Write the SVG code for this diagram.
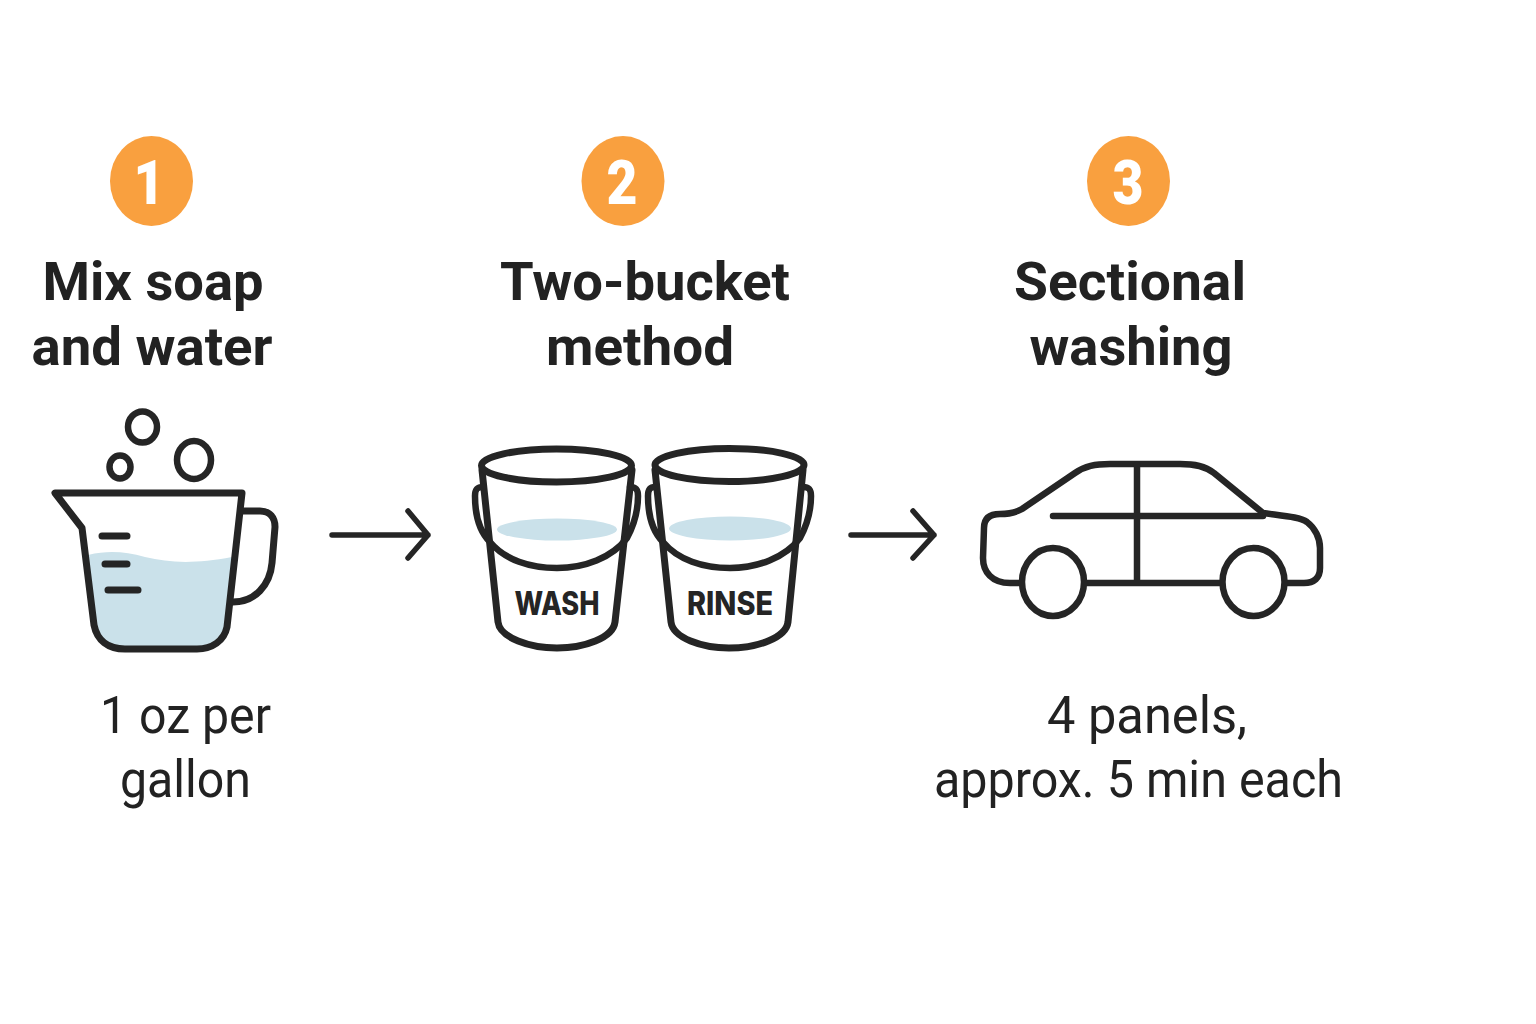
<svg xmlns="http://www.w3.org/2000/svg" width="1536" height="1024" viewBox="0 0 1536 1024">
<style>
.l{fill:none;stroke:#252525;stroke-linecap:round;stroke-linejoin:round}
.w{fill:#cae1ea;stroke:none}
.b{fill:#f9a03f;stroke:none}
.n{font-family:Roboto,"Liberation Sans",sans-serif;font-weight:900;font-size:62px;fill:#fff;text-anchor:middle}
.t{font-family:Roboto,"Liberation Sans",sans-serif;font-weight:700;font-size:54px;fill:#222;text-anchor:middle}
.s{font-family:Roboto,"Liberation Sans",sans-serif;font-weight:400;font-size:52px;fill:#222;text-anchor:middle}
.k{font-family:Inter,"Liberation Sans",sans-serif;font-weight:800;font-size:32px;fill:#252525;text-anchor:middle}
</style>
<rect width="1536" height="1024" fill="#fff"/>
<g id="connectors">
<path class="l" stroke-width="5.500" d="M332 535H428M408 511L428 535L408 558"/>
<path class="l" stroke-width="5.500" d="M851 535H934M913 511L934 535L913 558"/>
</g>
<g id="step1">
<ellipse class="b" cx="151.500" cy="181" rx="41.500" ry="45"/>
<text class="n" x="149" y="204" textLength="31" lengthAdjust="spacingAndGlyphs">1</text>
<text class="t" x="153" y="300" textLength="221" lengthAdjust="spacingAndGlyphs">Mix soap</text>
<text class="t" x="152" y="365" textLength="241" lengthAdjust="spacingAndGlyphs">and water</text>
<g id="jug">
<path class="w" d="M88 555C110 550 125 552 145 557C170 563 195 564 232 557L224 627C220 640 208 649 195 649H125C108 649 98 640 94 625Z"/>
<path class="l" stroke-width="7" d="M55 493H242L227 627C224 641 212 649 197 649H125C108 649 97 640 94 625L82 528Z"/>
<path class="l" stroke-width="7" d="M243 511H260C270 511 275 518 275 527L272 563C270 585 255 602 233 602"/>
<g class="l" stroke-width="7"><path d="M102 536H127M105 564H127M108 590H138"/></g>
<g class="l" stroke-width="6.500">
<ellipse cx="142.500" cy="427" rx="14.500" ry="15.500"/>
<ellipse cx="120" cy="467" rx="10.500" ry="11.500"/>
<ellipse cx="194" cy="460" rx="17" ry="19"/>
</g>
</g>
<text class="s" x="185.500" y="733" textLength="171" lengthAdjust="spacingAndGlyphs">1 oz per</text>
<text class="s" x="185.500" y="797" textLength="131" lengthAdjust="spacingAndGlyphs">gallon</text>
</g>
<g id="step2">
<ellipse class="b" cx="623" cy="181" rx="41.500" ry="45"/>
<text class="n" x="622" y="204" textLength="31" lengthAdjust="spacingAndGlyphs">2</text>
<text class="t" x="645" y="300" textLength="290" lengthAdjust="spacingAndGlyphs">Two-bucket</text>
<text class="t" x="640" y="365" textLength="188" lengthAdjust="spacingAndGlyphs">method</text>
<g id="wash">
<ellipse class="w" cx="557" cy="529.500" rx="60" ry="11"/>
<path class="l" stroke-width="7" d="M482 470L498 622C500 638 530 648 557 648C584 648 613 638 615 622L632 470"/>
<ellipse class="l" stroke-width="7" cx="556.500" cy="465.500" rx="75" ry="16.500"/>
<path class="l" stroke-width="6.500" d="M483 487C477 487 475 489 475 496C475 515 480 532 490 542C505 560 530 568 557 568C584 568 612 558 627 538C634 525 638 510 638 496C638 489 636 487 630 487"/>
<text class="k" x="557" y="615" textLength="85" lengthAdjust="spacingAndGlyphs">WASH</text>
</g>
<g id="rinse">
<ellipse class="w" cx="730" cy="528.500" rx="61" ry="12"/>
<path class="l" stroke-width="7" d="M655 470L671 622C673 638 702 648 729 648C757 648 786 638 788 622L803 470"/>
<ellipse class="l" stroke-width="7" cx="729.500" cy="465" rx="74.500" ry="16.500"/>
<path class="l" stroke-width="6.500" d="M655 487C650 487 648 489 648 496C648 515 653 532 663 542C678 560 703 568 730 568C757 568 785 558 800 538C807 525 811 510 811 496C811 489 809 487 803 487"/>
<text class="k" x="730" y="615" textLength="86" lengthAdjust="spacingAndGlyphs">RINSE</text>
</g>
</g>
<g id="step3">
<ellipse class="b" cx="1128.500" cy="181" rx="41.500" ry="45"/>
<text class="n" x="1128" y="204" textLength="31" lengthAdjust="spacingAndGlyphs">3</text>
<text class="t" x="1130" y="300" textLength="232" lengthAdjust="spacingAndGlyphs">Sectional</text>
<text class="t" x="1131" y="365" textLength="203" lengthAdjust="spacingAndGlyphs">washing</text>
<g id="car">
<path class="l" stroke-width="6.500" d="M1021 583H1010C992 583 983 572 983 558L984 528C984 518 990 514 1000 514C1010 514 1015 513 1022 509L1075 473C1085 466 1095 464 1110 464H1180C1195 464 1205 466 1214 473L1263 513C1285 516 1300 517 1307 522C1315 528 1320 538 1320 548V568C1320 578 1314 583 1304 583H1287"/>
<path class="l" stroke-width="6.500" d="M1087 583H1221M1137 465V583M1053 516H1263"/>
<ellipse class="l" stroke-width="6.500" cx="1053" cy="582" rx="31" ry="34"/>
<ellipse class="l" stroke-width="6.500" cx="1253.500" cy="582" rx="31" ry="34"/>
</g>
<text class="s" x="1147" y="733" textLength="200" lengthAdjust="spacingAndGlyphs">4 panels,</text>
<text class="s" x="1138.500" y="797" textLength="409" lengthAdjust="spacingAndGlyphs">approx. 5 min each</text>
</g>
</svg>
